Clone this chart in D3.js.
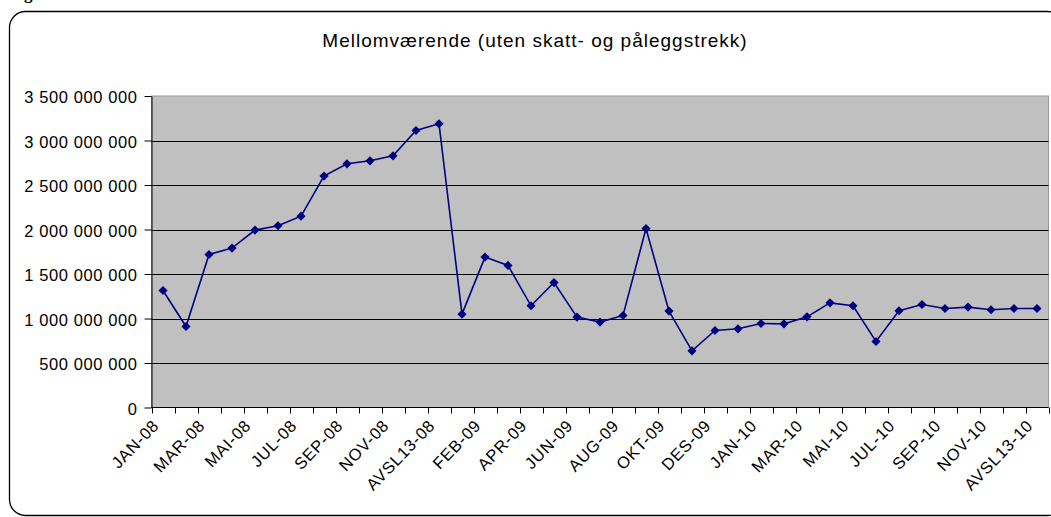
<!DOCTYPE html>
<html>
<head>
<meta charset="utf-8">
<script src="https://cdn.jsdelivr.net/npm/d3@7"></script>
<style>
  body { margin: 0; background: #fff; }
  svg { display: block; font-family: Arial, "Liberation Sans", sans-serif; }
</style>
</head>
<body>
<div id="chart"></div>
<script>
// categories as on the x axis
let categories = [
  "JAN-08","FEB-08","MAR-08","APR-08","MAI-08","JUN-08","JUL-08","AUG-08","SEP-08","OKT-08","NOV-08","DES-08","AVSL13-08",
  "JAN-09","FEB-09","MAR-09","APR-09","MAI-09","JUN-09","JUL-09","AUG-09","SEP-09","OKT-09","NOV-09","DES-09","AVSL13-09",
  "JAN-10","FEB-10","MAR-10","APR-10","MAI-10","JUN-10","JUL-10","AUG-10","SEP-10","OKT-10","NOV-10","DES-10","AVSL13-10"
];

// values (NOK)
let values = [
  1315e6, 910e6, 1719e6, 1791e6, 1993e6, 2042e6, 2150e6, 2600e6, 2738e6, 2772e6, 2828e6, 3112e6, 3188e6,
  1049e6, 1690e6, 1596e6, 1143e6, 1404e6, 1016e6, 960e6, 1034e6, 2011e6, 1083e6, 637e6, 865e6, 884e6,
  944e6, 940e6, 1019e6, 1176e6, 1143e6, 742e6, 1087e6, 1157e6, 1112e6, 1128e6, 1098e6, 1112e6, 1112e6
];

let yTicks = [0, 500e6, 1000e6, 1500e6, 2000e6, 2500e6, 3000e6, 3500e6];
let title = "Mellomværende (uten skatt- og påleggstrekk)";

let width = 1051, height = 517;
let plotLeft = 151.5, plotRight = 1048.5, plotTop = 96, plotBottom = 407.5;

let svg = d3.select("#chart").append("svg")
    .attr("width", width)
    .attr("height", height);

// cut off heading above the chart
svg.append("text")
    .attr("x", 9).attr("y", -1)
    .style("font-family", "'Liberation Serif', 'Times New Roman', serif")
    .style("font-weight", "bold")
    .style("font-size", "17px")
    .text("Figur");

// chart frame
svg.append("rect")
    .attr("x", 9.5).attr("y", 11.5)
    .attr("width", 1054).attr("height", 504)
    .attr("rx", 16).attr("ry", 16)
    .style("fill", "none")
    .style("stroke", "#000")
    .style("stroke-width", 1.3);

svg.append("text")
    .attr("x", 535).attr("y", 47)
    .attr("text-anchor", "middle")
    .style("font-size", "19px")
    .style("letter-spacing", "1px")
    .text(title);

let x = d3.scaleBand().domain(categories).range([plotLeft, plotRight]).padding(0);
let y = d3.scaleLinear().domain([0, 3500e6]).range([plotBottom, plotTop]);

// plot area
svg.append("rect")
    .attr("x", plotLeft).attr("y", plotTop)
    .attr("width", plotRight - plotLeft).attr("height", plotBottom - plotTop)
    .style("fill", "#c0c0c0")
    .style("stroke", "#9a9a9a")
    .style("stroke-width", 1);

// gridlines
svg.selectAll()
    .data(yTicks.filter(d => d > 0 && d < 3500e6))
    .enter()
    .append("line")
    .attr("x1", plotLeft).attr("x2", plotRight)
    .attr("y1", d => Math.round(y(d)) + 0.5)
    .attr("y2", d => Math.round(y(d)) + 0.5)
    .style("stroke", "#000")
    .style("stroke-width", 1);

// y axis
let fmt = d => d3.format(",")(d).replace(/,/g, " ");
let yAxis = svg.append("g")
    .attr("transform", "translate(" + plotLeft + ",0)")
    .call(d3.axisLeft(y).tickValues(yTicks).tickSize(7).tickSizeOuter(0).tickPadding(7).tickFormat(fmt));
yAxis.select(".domain").style("stroke", "#000");
yAxis.selectAll("line").style("stroke", "#000");
yAxis.selectAll("text")
    .style("font-size", "16.5px")
    .style("letter-spacing", "0.6px")
    .style("font-family", "Arial, 'Liberation Sans', sans-serif")
    .attr("dy", "0.4em")
    .attr("fill", "#000");

// x axis line and ticks at category boundaries
svg.append("line")
    .attr("x1", plotLeft).attr("x2", plotRight)
    .attr("y1", plotBottom).attr("y2", plotBottom)
    .style("stroke", "#000");
let bounds = categories.map(d => x(d)).concat([plotRight]);
svg.selectAll()
    .data(bounds)
    .enter()
    .append("line")
    .attr("x1", d => Math.round(d) + 0.5).attr("x2", d => Math.round(d) + 0.5)
    .attr("y1", plotBottom).attr("y2", plotBottom + 6)
    .style("stroke", "#000");

// x labels, every second category, rotated
svg.selectAll()
    .data(categories.filter((d, i) => i % 2 == 0))
    .enter()
    .append("text")
    .attr("transform", d => "translate(" + (x(d) + x.bandwidth() / 2 - 3) + "," + (plotBottom + 19) + ") rotate(-46)")
    .attr("text-anchor", "end")
    .style("font-size", "16.5px")
    .style("letter-spacing", "0.8px")
    .text(d => d);

// series
let line = d3.line()
    .x((d, i) => x(categories[i]) + x.bandwidth() / 2)
    .y(d => y(d));

svg.append("path")
    .datum(values)
    .attr("d", line)
    .style("fill", "none")
    .style("stroke", "#000080")
    .style("stroke-width", 1.6);

let marker = d3.symbol(d3.symbolSquare, 42);
svg.selectAll()
    .data(values)
    .enter()
    .append("path")
    .attr("d", marker)
    .attr("transform", (d, i) => "translate(" + (x(categories[i]) + x.bandwidth() / 2) + "," + y(d) + ") rotate(45)")
    .style("fill", "#000080");
</script>
</body>
</html>
